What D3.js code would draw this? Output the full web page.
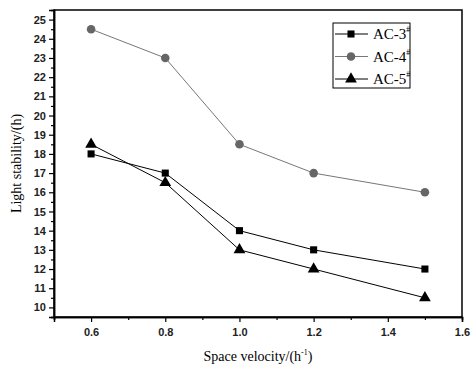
<!DOCTYPE html>
<html>
<head>
<meta charset="utf-8">
<script src="https://cdn.jsdelivr.net/npm/d3@7"></script>
<style>
body { margin: 0; background: #fff; }
svg { display: block; }
.tick text { font-family: Arial, "Liberation Sans", sans-serif; font-size: 11px; font-weight: bold; fill: #222; }
</style>
</head>
<body>
<svg width="472" height="374"></svg>
<script>
const velocity = [0.6, 0.8, 1.0, 1.2, 1.5];
const ac3 = [18, 17, 14, 13, 12];
const ac4 = [24.5, 23, 18.5, 17, 16];
const ac5 = [18.5, 16.5, 13, 12, 10.5];
const xTicks = [0.6, 0.8, 1.0, 1.2, 1.4, 1.6];
const yTicks = [10, 11, 12, 13, 14, 15, 16, 17, 18, 19, 20, 21, 22, 23, 24, 25];

const series = [
  { name: "AC-3", values: ac3, shape: d3.symbolSquare, size: 50, line: "#000", fill: "#000" },
  { name: "AC-4", values: ac4, shape: d3.symbolCircle, size: 58, line: "#777", fill: "#666" },
  { name: "AC-5", values: ac5, shape: d3.symbolTriangle, size: 60, line: "#000", fill: "#000" }
];

const svg = d3.select("svg");
const mLeft = 54, mRight = 462, mTop = 10, mBottom = 317;

const x = d3.scaleLinear().domain([0.5, 1.6]).range([mLeft, mRight]);
const y = d3.scaleLinear().domain([9.5, 25.5]).range([mBottom, mTop]);

// frame
svg.append("rect")
  .attr("x", mLeft).attr("y", mTop)
  .attr("width", mRight - mLeft).attr("height", mBottom - mTop)
  .attr("fill", "none").attr("stroke", "#000").attr("stroke-width", 1.5);

// axes
svg.append("g").attr("transform", "translate(0," + mBottom + ")")
  .call(d3.axisBottom(x).tickValues(xTicks).tickFormat(d3.format(".1f")).tickSize(5).tickPadding(6));
svg.append("g").attr("transform", "translate(0," + mBottom + ")")
  .call(d3.axisBottom(x).tickValues(d3.range(0.5, 1.6, 0.2)).tickFormat("").tickSize(3));
svg.append("g").attr("transform", "translate(" + mLeft + ",0)")
  .call(d3.axisLeft(y).tickValues(yTicks).tickSize(5).tickPadding(3));
svg.append("g").attr("transform", "translate(" + mLeft + ",0)")
  .call(d3.axisLeft(y).tickValues(d3.range(9.5, 25.5, 1)).tickFormat("").tickSize(3));
svg.selectAll(".domain").attr("stroke-width", 1.5);
svg.selectAll(".tick line").attr("stroke-width", 1.2);

// lines and markers
const line = d3.line().x((d, i) => x(velocity[i])).y(d => y(d));
series.forEach(s => {
  svg.append("path").datum(s.values)
    .attr("d", line).attr("fill", "none")
    .attr("stroke", s.line).attr("stroke-width", 1);
  svg.selectAll(null).data(s.values).enter().append("path")
    .attr("transform", (d, i) => "translate(" + x(velocity[i]) + "," + y(d) + ")")
    .attr("d", d3.symbol().type(s.shape).size(s.size))
    .attr("fill", s.fill);
});

// legend
const lg = svg.append("g");
lg.append("rect").attr("x", 333).attr("y", 23).attr("width", 77).attr("height", 65)
  .attr("fill", "#fff").attr("stroke", "#000").attr("stroke-width", 1);
series.forEach((s, i) => {
  const ly = 34 + i * 22.5;
  lg.append("line").attr("x1", 335).attr("x2", 368).attr("y1", ly).attr("y2", ly)
    .attr("stroke", s.line).attr("stroke-width", 1);
  lg.append("path").attr("transform", "translate(351," + ly + ")")
    .attr("d", d3.symbol().type(s.shape).size(s.size)).attr("fill", s.fill);
  const t = lg.append("text").attr("x", 373).attr("y", ly + 5)
    .attr("font-family", "'Liberation Serif', 'Times New Roman', serif").attr("font-size", 15).attr("fill", "#000");
  t.append("tspan").text(s.name);
  t.append("tspan").attr("dy", -7).attr("font-size", 8).text("#");
});

// axis titles
svg.append("text")
  .attr("transform", "translate(21," + (mTop + mBottom) / 2 + ") rotate(-90)")
  .attr("text-anchor", "middle")
  .attr("font-family", "'Liberation Serif', 'Times New Roman', serif").attr("font-size", 14)
  .text("Light stability/(h)");
const xt = svg.append("text")
  .attr("x", (mLeft + mRight) / 2).attr("y", 361)
  .attr("text-anchor", "middle")
  .attr("font-family", "'Liberation Serif', 'Times New Roman', serif").attr("font-size", 14);
xt.append("tspan").text("Space velocity/(h");
xt.append("tspan").attr("dy", -6).attr("font-size", 8).text("-1");
xt.append("tspan").attr("dy", 6).text(")");
</script>
</body>
</html>
